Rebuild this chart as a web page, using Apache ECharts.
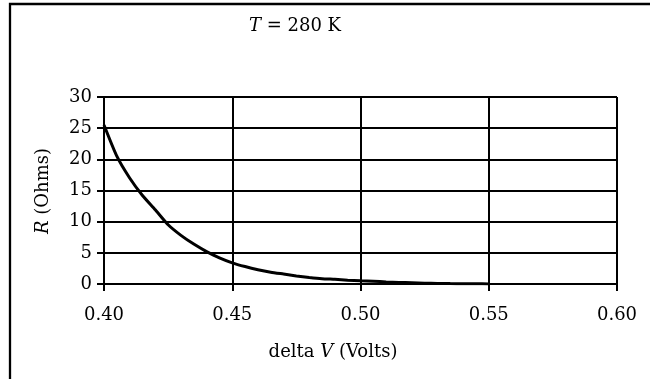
<!DOCTYPE html>
<html>
<head>
<meta charset="utf-8">
<script src="https://cdn.jsdelivr.net/npm/echarts@6/dist/echarts.min.js"></script>
<style>html,body{margin:0;padding:0;background:#fff;}#c{width:650px;height:379px;}</style>
</head>
<body>
<div id="c"></div>
<script>
// Data
const deltaV = [0.400,0.405,0.410,0.415,0.420,0.425,0.430,0.435,0.440,0.445,0.450,0.455,0.460,0.465,0.470,0.475,0.480,0.485,0.490,0.495,0.500,0.505,0.510,0.515,0.520,0.525,0.530,0.535,0.540,0.545,0.550];
const resistance = [25.5,20.5,17.0,14.2,11.9,9.5,7.8,6.4,5.2,4.2,3.4,2.8,2.3,1.9,1.6,1.3,1.05,0.85,0.75,0.62,0.52,0.43,0.34,0.26,0.2,0.14,0.1,0.07,0.05,0.03,0.02];
const xTicks = [0.40,0.45,0.50,0.55,0.60];
const yTicks = [0,5,10,15,20,25,30];
const titleText = '{i|T} = 280 K';
const xName = 'delta {i|V} (Volts)';
const yName = '{i|R} (Ohms)';

const FONT = 'DejaVu Serif';
const chart = echarts.init(document.getElementById('c'), null, {renderer:'canvas'});
const pts = deltaV.map((v,i)=>[v, resistance[i]]);
chart.setOption({
  animation:false,
  backgroundColor:'#fff',
  grid:{left:104, right:33, top:97, bottom:95, containLabel:false},
  xAxis:{
    type:'value', min:xTicks[0], max:xTicks[xTicks.length-1], interval:0.05,
    axisLine:{show:true, lineStyle:{color:'#000', width:2}},
    axisTick:{show:true, length:7, lineStyle:{color:'#000', width:2}},
    axisLabel:{color:'#000', fontFamily:FONT, fontSize:18, margin:22, formatter:v=>v.toFixed(2)},
    splitLine:{show:true, lineStyle:{color:'#000', width:2}}
  },
  yAxis:{
    type:'value', min:yTicks[0], max:yTicks[yTicks.length-1], interval:5,
    axisLine:{show:true, lineStyle:{color:'#000', width:2}},
    axisTick:{show:true, length:7, lineStyle:{color:'#000', width:2}},
    axisLabel:{color:'#000', fontFamily:FONT, fontSize:18, margin:12},
    splitLine:{show:true, lineStyle:{color:'#000', width:2}}
  },
  series:[{
    type:'line', data:pts, showSymbol:false, smooth:0.2,
    lineStyle:{color:'#000', width:3}
  }],
  graphic:[
    {type:'rect', shape:{x:10, y:4, width:700, height:420}, style:{fill:null, stroke:'#000', lineWidth:2.3}, silent:true},
    {type:'text', x:295, y:26, style:{text:titleText, fontFamily:FONT, fontSize:18, fill:'#000', textAlign:'center', textVerticalAlign:'middle', rich:{i:{fontStyle:'italic', fontFamily:FONT, fontSize:18}}}},
    {type:'text', x:333, y:352, style:{text:xName, fontFamily:FONT, fontSize:18, fill:'#000', textAlign:'center', textVerticalAlign:'middle', rich:{i:{fontStyle:'italic', fontFamily:FONT, fontSize:18}}}},
    {type:'text', x:43, y:191, rotation:Math.PI/2, style:{text:yName, fontFamily:FONT, fontSize:18, fill:'#000', textAlign:'center', textVerticalAlign:'middle', rich:{i:{fontStyle:'italic', fontFamily:FONT, fontSize:18}}}}
  ]
});
</script>
</body>
</html>
